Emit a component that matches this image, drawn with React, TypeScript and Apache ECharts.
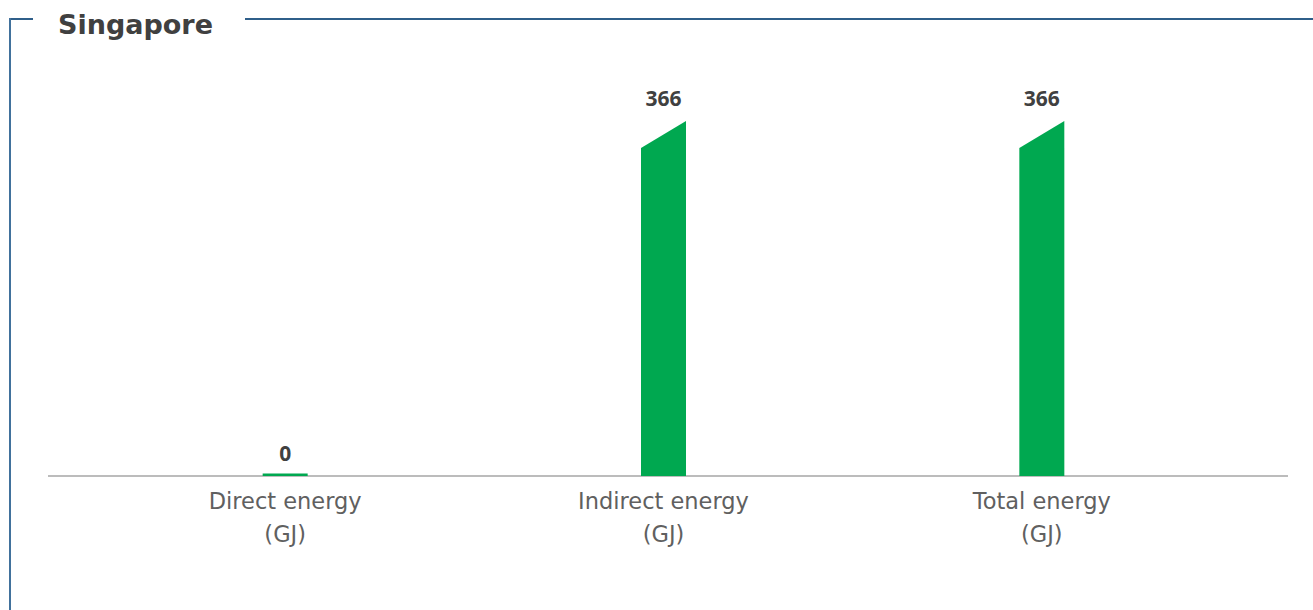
import { useEffect, useRef } from "react";
import * as echarts from "echarts";

// Chart content
const chartTitle = "Singapore";
const categories = ["Direct energy\n(GJ)", "Indirect energy\n(GJ)", "Total energy\n(GJ)"];
const values = [0, 366, 366];

// Layout
const WIDTH = 1313;
const HEIGHT = 610;
const GRID_LEFT = 96;
const GRID_RIGHT = 82;
const GRID_TOP = 88;
const GRID_BOTTOM = 134;
const BASELINE_Y = HEIGHT - GRID_BOTTOM;
const BAR_WIDTH = 45;
const SLANT = 27;

const FONT = '"Century Gothic", "Open Sans", sans-serif';
const WIDE_FONT = '"Century Gothic", "DejaVu Sans", sans-serif';
const GREEN = "#00a850";
const FRAME = "#2f5f8a";

export default function App() {
  const ref = useRef<HTMLDivElement>(null);

  useEffect(() => {
    if (!ref.current) return;
    const chart = echarts.init(ref.current, undefined, { renderer: "svg" });

    chart.setOption({
      animation: false,
      backgroundColor: "#ffffff",
      title: {
        text: chartTitle,
        left: 58,
        top: 8,
        padding: 0,
        textStyle: {
          fontFamily: WIDE_FONT,
          fontSize: 27,
          fontWeight: "bold",
          color: "#404040",
          lineHeight: 32,
        },
      },
      grid: {
        left: GRID_LEFT,
        right: GRID_RIGHT,
        top: GRID_TOP,
        bottom: GRID_BOTTOM,
      },
      xAxis: {
        type: "category",
        data: categories,
        axisLine: { show: false },
        axisTick: { show: false },
        axisLabel: {
          fontFamily: WIDE_FONT,
          fontSize: 22.5,
          lineHeight: 33,
          color: "#606060",
          margin: 8,
        },
      },
      yAxis: {
        type: "value",
        min: 0,
        max: 400,
        show: false,
        splitLine: { show: false },
      },
      graphic: [
        // frame around the panel, broken where the title sits
        { type: "line", z: 1, shape: { x1: 10, y1: 19, x2: 33, y2: 19 }, style: { stroke: FRAME, lineWidth: 2 } },
        { type: "line", z: 1, shape: { x1: 245, y1: 19, x2: WIDTH, y2: 19 }, style: { stroke: FRAME, lineWidth: 2 } },
        { type: "line", z: 1, shape: { x1: 10, y1: 18, x2: 10, y2: HEIGHT }, style: { stroke: "#41719c", lineWidth: 2 } },
        // baseline
        {
          type: "line",
          z: 1,
          shape: { x1: 48, y1: BASELINE_Y, x2: 1288, y2: BASELINE_Y },
          style: { stroke: "#a6a6a6", lineWidth: 1.5 },
        },
      ],
      series: [
        {
          type: "custom",
          z: 5,
          data: values.map((v, i) => [i, v]),
          encode: { x: 0, y: 1 },
          renderItem: (_params: any, api: any) => {
            const idx = api.value(0);
            const v = api.value(1);
            const top = api.coord([idx, v]);
            const base = api.coord([idx, 0]);
            const x0 = top[0] - BAR_WIDTH / 2;
            const x1 = top[0] + BAR_WIDTH / 2;
            const h = base[1] - top[1];
            const children: any[] = [];
            if (h < 3) {
              children.push({
                type: "rect",
                shape: { x: x0, y: base[1] - 2.5, width: BAR_WIDTH, height: 2.5 },
                style: { fill: GREEN },
              });
            } else {
              const s = Math.min(SLANT, h);
              children.push({
                type: "polygon",
                shape: {
                  points: [
                    [x0, base[1]],
                    [x0, top[1] + s],
                    [x1, top[1]],
                    [x1, base[1]],
                  ],
                },
                style: { fill: GREEN },
              });
            }
            children.push({
              type: "text",
              style: {
                text: String(v),
                x: top[0],
                y: top[1] - 23,
                align: "center",
                verticalAlign: "middle",
                fill: "#404040",
                font: `bold 21px ${FONT}`,
              },
            });
            return { type: "group", children };
          },
        },
      ],
    });

    return () => chart.dispose();
  }, []);

  return (
    <div
      ref={ref}
      style={{ position: "fixed", left: 0, top: 0, width: WIDTH, height: HEIGHT, background: "#fff" }}
    />
  );
}
